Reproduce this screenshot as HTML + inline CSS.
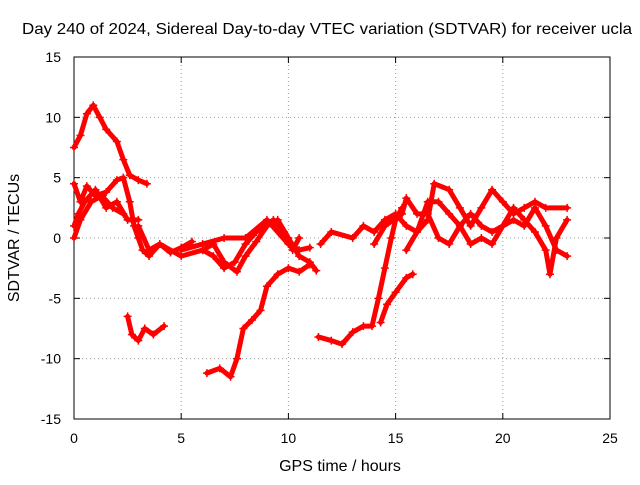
<!DOCTYPE html>
<html><head><meta charset="utf-8"><style>
body{margin:0;background:#fff}
svg text{font-family:"Liberation Sans",sans-serif;font-size:14px;fill:#000}
</style></head><body>
<svg id="c" width="640" height="480"></svg>
<script>
const xTicks=[0,5,10,15,20,25];
const yTicks=[-15,-10,-5,0,5,10,15];
const trackA=[[0,7.5],[0.3,8.5],[0.6,10.3],[0.9,11],[1.2,10],[1.5,9],[2,8],[2.3,6.5],[2.6,5.2],[3,4.8],[3.4,4.5]];
const trackB=[[0,4.5],[0.3,3],[0.6,4.3],[1,3.5],[1.5,3.8],[2,4.8],[2.3,5],[2.6,3],[2.8,1],[3,0],[3.2,-1],[3.5,-1.5],[4,-0.5],[4.5,-1.2],[5,-0.8],[5.5,-0.3]];
const trackC=[[2.5,-6.5],[2.7,-8],[3,-8.5],[3.3,-7.5],[3.7,-8],[4.2,-7.3]];
const trackD=[[6.2,-11.2],[6.8,-10.8],[7.3,-11.5],[7.6,-10],[7.9,-7.5],[8.3,-6.8],[8.7,-6],[9,-4],[9.5,-3],[10,-2.5],[10.5,-2.8],[11,-2.2]];
const trackE=[[11.4,-8.2],[12,-8.5],[12.5,-8.8],[13,-7.8],[13.5,-7.3],[13.9,-7.3],[14.2,-5],[14.5,-2.5],[14.8,0],[15,1.5],[15.3,2.5]];
const trackF=[[14.3,-7],[14.6,-5.5],[15,-4.5],[15.5,-3.3],[15.8,-3]];
const trackG=[[3,1],[3.5,-1],[4,-0.5],[5,-1.5],[6,-1],[6.5,-0.5],[7,-2],[7.6,-2.8],[8,-1.5],[8.5,-0.3],[9,1],[9.5,1.5],[10,0],[10.5,-1.5],[11,-2],[11.3,-2.7]];
const trackH=[[5,-1],[6,-0.5],[7,0],[8,0],[9,1.5],[10,-0.5],[10.5,-1],[11,-0.8]];
const trackI=[[6,-1],[6.5,-1.5],[7,-2.5],[7.5,-2],[8,-0.5],[8.5,0.5],[9.3,1.5],[9.8,0.5],[10.2,-1],[10.5,0]];
const trackJ=[[11.5,-0.5],[12,0.5],[13,0],[13.5,1],[14,0.5],[14.5,1.5],[15,2],[15.5,1],[16,0.5],[16.5,1.5],[16.8,4.5],[17.5,4],[18,2.5],[18.5,1],[19,2.5],[19.5,4],[20,3],[20.5,2],[21,2.5],[21.5,3],[22,2.5],[23,2.5]];
const trackK=[[14,-0.5],[14.5,1],[15.3,2],[15.5,3.3],[16,2],[16.5,2],[17,0],[17.5,-0.5],[18,1],[18.5,2],[19,1],[19.5,0.5],[20,1],[20.5,2.5],[21,1.5],[21.5,0.5],[22,-1],[22.2,-3],[22.5,0],[23,1.5]];
const trackL=[[15.5,-1],[16,0.5],[16.5,3],[17,3],[17.5,2],[18,1],[18.5,-0.5],[19,0],[19.5,-0.5],[20,1],[20.5,1.5],[21,1],[21.5,2.5],[22,1],[22.5,-1],[23,-1.5]];
const trackM=[[0,1],[0.2,2],[0.5,3],[1,4],[1.5,2.5],[2,3],[2.5,1.5],[3,1.5]];
const trackN=[[0,0],[0.3,1.5],[0.8,3],[1.3,3.5],[1.8,2.5],[2.3,2]];
const tracks=[trackA,trackB,trackC,trackD,trackE,trackF,trackG,trackH,trackI,trackJ,trackK,trackL,trackM,trackN];

const L=74,R=610,T=57,B=419;
const sx=v=>L+(v-0)/25*(R-L);
const sy=v=>B-(v+15)/30*(B-T);
const NS="http://www.w3.org/2000/svg";
const svg=document.getElementById('c');
function mk(tag,attrs,parent){const e=document.createElementNS(NS,tag);for(const k in attrs)e.setAttribute(k,attrs[k]);(parent||svg).appendChild(e);return e;}

xTicks.forEach(v=>{
  const x=sx(v);
  if(v>0&&v<25){const g=mk('line',{x1:x,x2:x,y1:T,y2:B,stroke:'#a0a0a0','stroke-dasharray':'1,3'});
  
  }
  mk('line',{x1:x,x2:x,y1:B,y2:B-6,stroke:'#000'});
  mk('line',{x1:x,x2:x,y1:T,y2:T+6,stroke:'#000'});
  const t=mk('text',{x:x,y:B+24,'text-anchor':'middle'});t.textContent=v;
  
  
});
yTicks.forEach(v=>{
  const y=sy(v);
  if(v>-15&&v<15){const g=mk('line',{x1:L,x2:R,y1:y,y2:y,stroke:'#a0a0a0','stroke-dasharray':'1,3'});
  
  }
  mk('line',{x1:L,x2:L+6,y1:y,y2:y,stroke:'#000'});
  mk('line',{x1:R,x2:R-6,y1:y,y2:y,stroke:'#000'});
  const t=mk('text',{x:L-13,y:y+5,'text-anchor':'end'});t.textContent=v;
  
  
});
const fr=mk('rect',{x:L,y:T,width:R-L,height:B-T,fill:'none',stroke:'#000'});



tracks.forEach(tr=>{
  const g=mk('g',{});
  
  
  mk('polyline',{points:tr.map(p=>sx(p[0])+','+sy(p[1])).join(' '),fill:'none',stroke:'#ff0000','stroke-width':5,'stroke-linejoin':'round','stroke-linecap':'round'},g);
  tr.forEach(p=>{
    const x=sx(p[0]),y=sy(p[1]);
    const m=mk('path',{d:`M${x-4},${y}h8M${x},${y-4}v8`,stroke:'#ff0000','stroke-width':1.5},g);
    
    
  });
});

const ti=mk('text',{x:22,y:34,textLength:610,lengthAdjust:'spacingAndGlyphs',style:'font-size:16px'});ti.textContent='Day 240 of 2024, Sidereal Day-to-day VTEC variation (SDTVAR) for receiver ucla';


const xl=mk('text',{x:340,y:471,'text-anchor':'middle',style:'font-size:16px'});xl.textContent='GPS time / hours';


const yl=mk('text',{x:0,y:0,'text-anchor':'middle',style:'font-size:16px',transform:'translate(19,238) rotate(-90)'});yl.textContent='SDTVAR / TECUs';


</script>
</body></html>
